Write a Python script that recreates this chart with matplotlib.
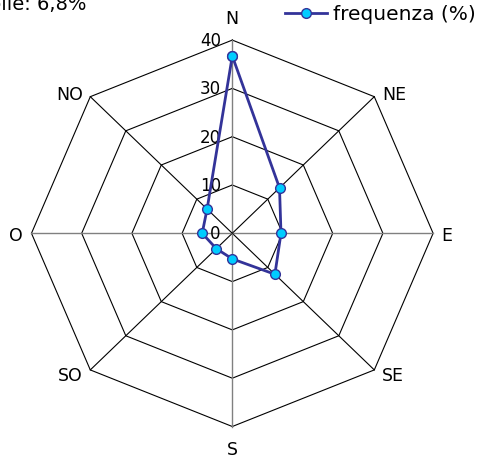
import numpy as np
import matplotlib
matplotlib.use('Agg')
import matplotlib.pyplot as plt

# wind direction frequencies (%)
directions = ['N', 'NE', 'E', 'SE', 'S', 'SO', 'O', 'NO']
frequency = [36.7, 13.3, 9.7, 12.0, 5.3, 4.5, 6.0, 7.1]
ring_levels = [0, 10, 20, 30, 40]
variable_note = 'variabile: 6,8%'

R_MAX = 40
angles = np.arange(len(directions)) * 2 * np.pi / len(directions)


def to_xy(r, theta):
    # compass angles: 0 at north, clockwise
    return r * np.sin(theta), r * np.cos(theta)


fig = plt.figure(figsize=(4.78, 4.61), dpi=100)
ax = fig.add_axes([0, 0, 1, 1])
ax.set_xlim(-46.27, 48.94)
ax.set_ylim(-47.14, 48.30)
ax.axis('off')

# octagonal rings
closed = np.append(angles, angles[0])
for lvl in ring_levels[1:]:
    x, y = to_xy(lvl, closed)
    ax.plot(x, y, color='black', lw=0.8, zorder=1)

# spokes: cardinal ones grey, diagonals black
for i, a in enumerate(angles):
    x, y = to_xy(np.array([0, R_MAX]), a)
    col = '#808080' if i % 2 == 0 else 'black'
    ax.plot(x, y, color=col, lw=1.0 if i % 2 == 0 else 0.8, zorder=1)

# radial tick labels along the north axis
for lvl in ring_levels:
    ax.text(-2.3, lvl - 0.2, str(lvl), ha='right', va='center', fontsize=12, zorder=2)

# direction labels
label_offsets = {
    'N': (0, 4.4), 'E': (2.8, -0.6), 'S': (0, -4.9), 'O': (-3.1, -0.6),
    'NE': (3.9, 0.3), 'SE': (3.7, -1.3), 'SO': (-4.0, -1.3), 'NO': (-4.2, 0.3),
}
for name, a in zip(directions, angles):
    x, y = to_xy(R_MAX, a)
    dx, dy = label_offsets[name]
    ax.text(x + dx, y + dy, name, ha='center', va='center', fontsize=12.5)

# data polygon
vals = np.append(frequency, frequency[0])
x, y = to_xy(vals, closed)
ax.plot(x, y, color='#333399', lw=2.0, marker='o', markersize=7,
        markerfacecolor='#00CCFF', markeredgecolor='#333399', markeredgewidth=1.0,
        zorder=3, label='frequenza (%)')

ax.legend(loc='center right', bbox_to_anchor=(476 / 478, 1 - 15 / 461),
          bbox_transform=fig.transFigure, frameon=False, fontsize=14.5,
          handlelength=2.1, handletextpad=0.3, borderpad=0, borderaxespad=0)

fig.text(87 / 478, 1 - 10 / 461, variable_note, ha='right', va='baseline', fontsize=14)

fig.savefig('out.png', dpi=100)
